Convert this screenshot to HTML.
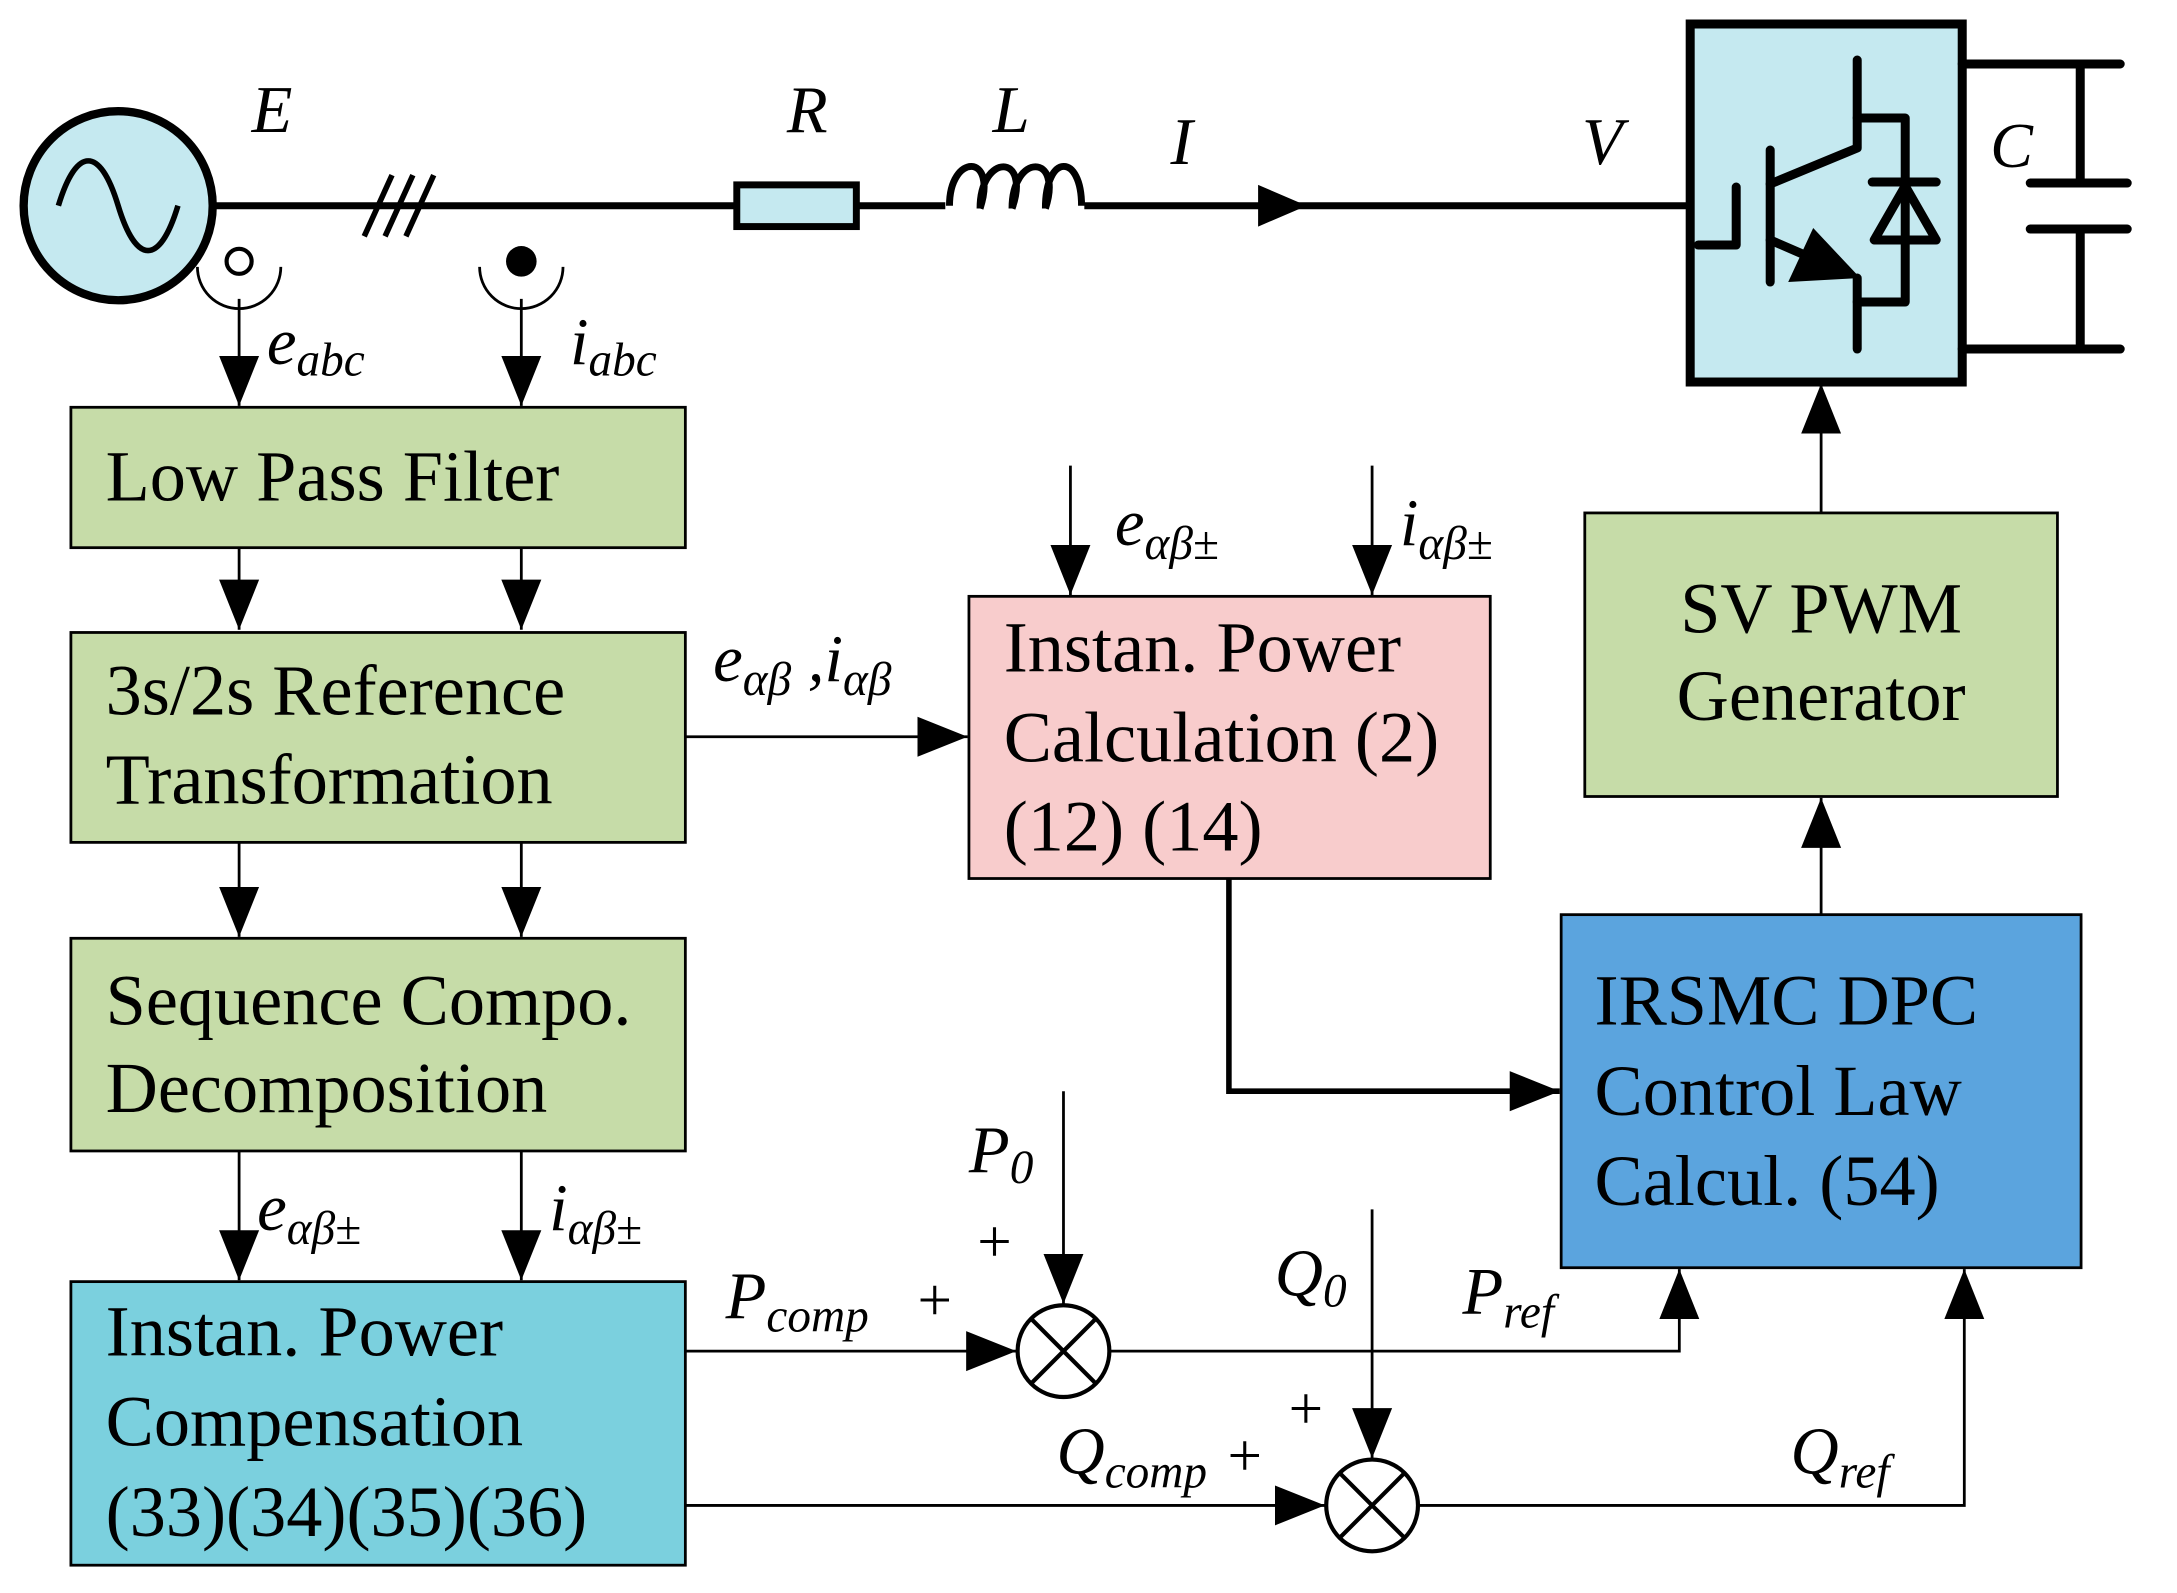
<!DOCTYPE html>
<html><head><meta charset="utf-8"><style>html,body{margin:0;padding:0;background:#fff}svg{display:block}
text{font-family:"Liberation Serif","Times New Roman",serif}</style></head>
<body>
<svg width="2177" height="1593" viewBox="0 0 1566 1146" preserveAspectRatio="none" xmlns="http://www.w3.org/2000/svg">
<defs>
<marker id="b" viewBox="0 0 10 10" refX="10" refY="5" markerWidth="36" markerHeight="36" markerUnits="userSpaceOnUse" orient="auto"><path d="M0,1 L10,5 L0,9 z"/></marker>
</defs>
<style>
.l{stroke:#000;stroke-width:2;fill:none}
.t{font-size:52px}
.m{font-size:48px;font-style:italic}
.s{font-size:34px;font-style:italic}
</style>
<line x1="150" y1="148" x2="1218" y2="148" stroke="#000" stroke-width="5"/>
<circle cx="85" cy="148" r="68" fill="#c5e9f0" stroke="#000" stroke-width="6"/>
<path d="M42,148 C55,105 72,105 85,148 C98,191 115,191 128,148" fill="none" stroke="#000" stroke-width="4"/>
<g stroke="#000" stroke-width="4"><line x1="262" y1="170" x2="282" y2="126"/><line x1="277" y1="170" x2="297" y2="126"/><line x1="292" y1="170" x2="312" y2="126"/></g>
<rect x="530" y="133" width="86" height="30" fill="#c5e9f0" stroke="#000" stroke-width="5"/>
<rect x="680" y="140" width="100" height="16" fill="#fff"/>
<path d="M683,148 C683,110 718,110 705,150 M705,150 C705,110 742,110 728,150 M728,150 C728,110 765,110 752,150 M752,150 C752,110 778,110 778,148" fill="none" stroke="#000" stroke-width="5"/>
<path d="M905,133 L940,148 L905,163 z"/>
<text x="181" y="95" class="m">E</text>
<text x="566" y="95" class="m">R</text>
<text x="714" y="95" class="m">L</text>
<text x="842" y="118" class="m">I</text>
<text x="1138" y="118" class="m">V</text>
<g transform="scale(0.71942)">
<rect x="1690" y="24" width="272" height="358" fill="#c5e9f0" stroke="#000" stroke-width="9"/>
<g stroke="#000" stroke-width="9" fill="none" stroke-linecap="round" stroke-linejoin="round">
<path d="M1857,60 L1857,118 L1905,118 L1905,302 L1857,302"/>
<path d="M1857,118 L1857,148 L1770,184"/>
<path d="M1770,150 L1770,282"/>
<path d="M1736,187 L1736,245 L1698,245"/>
<path d="M1770,240 L1830,266"/>
<path d="M1857,278 L1857,349"/>
<path d="M1872,182 L1936,182"/>
<path d="M1905,186 L1874,240 L1936,240 Z"/>
<path d="M1962,64 L2120,64 M2080,64 L2080,183 M2030,183 L2127,183 M2030,229 L2127,229 M2080,229 L2080,349 M1962,349 L2120,349"/>
</g>
<path d="M1813,228 L1860,278 L1788,282 Z"/>
<text x="1990" y="167" font-size="64" font-style="italic">C</text>
</g>
<circle cx="172" cy="188" r="9" fill="#fff" stroke="#000" stroke-width="3"/>
<path d="M142,192 A30,30 0 0 0 202,192" class="l" stroke-width="2.5"/>
<circle cx="375" cy="188" r="11" fill="#000"/>
<path d="M345,192 A30,30 0 0 0 405,192" class="l" stroke-width="2.5"/>
<line x1="172" y1="215" x2="172" y2="292" class="l" marker-end="url(#b)"/>
<line x1="375" y1="215" x2="375" y2="292" class="l" marker-end="url(#b)"/>
<text x="192" y="262" class="m">e<tspan class="s" dy="8">abc</tspan></text>
<text x="410" y="262" class="m">i<tspan class="s" dy="8">abc</tspan></text>
<rect x="51" y="293" width="442" height="101" fill="#c6dca8" stroke="#000" stroke-width="2"/>
<text x="76" y="360" class="t">Low Pass Filter</text>
<line x1="172" y1="394" x2="172" y2="453" class="l" marker-end="url(#b)"/>
<line x1="375" y1="394" x2="375" y2="453" class="l" marker-end="url(#b)"/>
<rect x="51" y="455" width="442" height="151" fill="#c6dca8" stroke="#000" stroke-width="2"/>
<text x="76" y="514" class="t">3s/2s Reference</text>
<text x="76" y="578" class="t">Transformation</text>
<line x1="172" y1="606" x2="172" y2="674" class="l" marker-end="url(#b)"/>
<line x1="375" y1="606" x2="375" y2="674" class="l" marker-end="url(#b)"/>
<rect x="51" y="675" width="442" height="153" fill="#c6dca8" stroke="#000" stroke-width="2"/>
<text x="76" y="737" class="t">Sequence Compo.</text>
<text x="76" y="800" class="t">Decomposition</text>
<line x1="172" y1="828" x2="172" y2="921" class="l" marker-end="url(#b)"/>
<line x1="375" y1="828" x2="375" y2="921" class="l" marker-end="url(#b)"/>
<text x="185" y="885" class="m">e<tspan class="s" dy="10">αβ±</tspan></text>
<text x="395" y="885" class="m">i<tspan class="s" dy="10">αβ±</tspan></text>
<rect x="51" y="922" width="442" height="204" fill="#7bd0de" stroke="#000" stroke-width="2"/>
<text x="76" y="975" class="t">Instan. Power</text>
<text x="76" y="1040" class="t">Compensation</text>
<text x="76" y="1105" class="t">(33)(34)(35)(36)</text>
<line x1="493" y1="530" x2="696" y2="530" class="l" marker-end="url(#b)"/>
<text x="513" y="490" class="m">e<tspan class="s" dy="10">αβ</tspan><tspan dy="-10"> ,i</tspan><tspan class="s" dy="10">αβ</tspan></text>
<line x1="770" y1="335" x2="770" y2="428" class="l" marker-end="url(#b)"/>
<line x1="987" y1="335" x2="987" y2="428" class="l" marker-end="url(#b)"/>
<text x="802" y="392" class="m">e<tspan class="s" dy="10">αβ±</tspan></text>
<text x="1007" y="392" class="m">i<tspan class="s" dy="10">αβ±</tspan></text>
<rect x="697" y="429" width="375" height="203" fill="#f8cccc" stroke="#000" stroke-width="2"/>
<text x="722" y="483" class="t">Instan. Power</text>
<text x="722" y="548" class="t">Calculation (2)</text>
<text x="722" y="612" class="t">(12) (14)</text>
<rect x="1140" y="369" width="340" height="204" fill="#c6dca8" stroke="#000" stroke-width="2"/>
<text x="1310" y="455" class="t" text-anchor="middle">SV PWM</text>
<text x="1310" y="518" class="t" text-anchor="middle">Generator</text>
<line x1="1310" y1="369" x2="1310" y2="276" class="l" marker-end="url(#b)"/>
<line x1="1310" y1="658" x2="1310" y2="574" class="l" marker-end="url(#b)"/>
<rect x="1123" y="658" width="374" height="254" fill="#5ba4de" stroke="#000" stroke-width="2"/>
<text x="1147" y="737" class="t">IRSMC DPC</text>
<text x="1147" y="802" class="t">Control Law</text>
<text x="1147" y="867" class="t">Calcul. (54)</text>
<path d="M884,632 L884,785 L1122,785" fill="none" stroke="#000" stroke-width="4" marker-end="url(#b)"/>
<line x1="493" y1="972" x2="731" y2="972" class="l" marker-end="url(#b)"/>
<line x1="765" y1="785" x2="765" y2="938" class="l" marker-end="url(#b)"/>
<circle cx="765" cy="972" r="33" fill="#fff" stroke="#000" stroke-width="3"/>
<path d="M742,949 L788,995 M788,949 L742,995" stroke="#000" stroke-width="3"/>
<path d="M798,972 L1208,972 L1208,913" class="l" marker-end="url(#b)"/>
<text x="522" y="948" class="m">P<tspan class="s" dy="10">comp</tspan></text>
<text x="660" y="950" font-size="44">+</text>
<text x="703" y="908" font-size="44">+</text>
<text x="697" y="843" class="m">P<tspan font-size="34" dy="8">0</tspan></text>
<text x="1052" y="945" class="m">P<tspan class="s" dy="10">ref</tspan></text>
<line x1="493" y1="1083" x2="953" y2="1083" class="l" marker-end="url(#b)"/>
<line x1="987" y1="870" x2="987" y2="1049" class="l" marker-end="url(#b)"/>
<circle cx="987" cy="1083" r="33" fill="#fff" stroke="#000" stroke-width="3"/>
<path d="M964,1060 L1010,1106 M1010,1060 L964,1106" stroke="#000" stroke-width="3"/>
<path d="M1020,1083 L1413,1083 L1413,913" class="l" marker-end="url(#b)"/>
<text x="917" y="932" class="m">Q<tspan font-size="34" dy="8">0</tspan></text>
<text x="760" y="1060" class="m">Q<tspan class="s" dy="10">comp</tspan></text>
<text x="883" y="1062" font-size="44">+</text>
<text x="927" y="1028" font-size="44">+</text>
<text x="1288" y="1060" class="m">Q<tspan class="s" dy="10">ref</tspan></text>
</svg>
</body></html>
